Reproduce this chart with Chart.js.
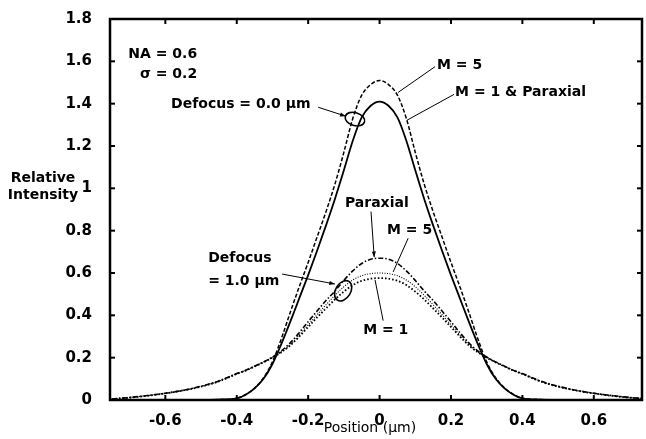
<!DOCTYPE html>
<html><head><meta charset="utf-8">
<script src="https://cdn.jsdelivr.net/npm/chart.js@4/dist/chart.umd.min.js"></script>
<style>html,body{margin:0;padding:0;background:#fff}#wrap{width:646px;height:439px}</style>
</head><body><div id="wrap"><canvas id="c" width="646" height="439"></canvas></div>
<script>
// Position (um)
const positions = [-0.75,-0.7,-0.65,-0.6,-0.55,-0.5,-0.45,-0.4,-0.375,-0.35,-0.325,-0.3,-0.275,-0.25,-0.225,-0.2,-0.175,-0.15,-0.125,-0.1,-0.075,-0.05,-0.025,
  0,
  0.025,0.05,0.075,0.1,0.125,0.15,0.175,0.2,0.225,0.25,0.275,0.3,0.325,0.35,0.375,0.4,0.45,0.5,0.55,0.6,0.65,0.7,0.75];
// Defocus = 0.0 um, M = 1 & Paraxial (solid)
const def0M1Paraxial = [0,0,0,0,0,0,0.002,0.008,0.025,0.055,0.10,0.17,0.265,0.37,0.48,0.59,0.705,0.825,0.95,1.085,1.225,1.335,1.39,
  1.41,
  1.39,1.335,1.225,1.085,0.95,0.825,0.705,0.59,0.48,0.37,0.265,0.17,0.10,0.055,0.025,0.008,0.002,0,0,0,0,0,0];
// Defocus = 0.0 um, M = 5 (dashed)
const def0M5 = [0,0,0,0,0,0,0.002,0.008,0.026,0.057,0.105,0.18,0.29,0.415,0.535,0.65,0.77,0.89,1.02,1.17,1.33,1.44,1.49,
  1.51,
  1.49,1.44,1.33,1.17,1.02,0.89,0.77,0.65,0.535,0.415,0.29,0.18,0.105,0.057,0.026,0.008,0.002,0,0,0,0,0,0];
// Defocus = 1.0 um, Paraxial (dash-dot)
const def1Paraxial = [0.005,0.012,0.021,0.032,0.046,0.065,0.09,0.125,0.14,0.16,0.18,0.203,0.232,0.27,0.318,0.37,0.42,0.47,0.515,0.565,0.61,0.645,0.665,
  0.67,
  0.665,0.645,0.61,0.565,0.515,0.47,0.42,0.37,0.318,0.27,0.232,0.203,0.18,0.16,0.14,0.125,0.09,0.065,0.046,0.032,0.021,0.012,0.005];
// Defocus = 1.0 um, M = 5 (fine dots)
const def1M5 = [0.005,0.012,0.021,0.032,0.045,0.064,0.089,0.124,0.14,0.159,0.179,0.201,0.228,0.262,0.307,0.355,0.403,0.45,0.495,0.535,0.567,0.587,0.597,
  0.60,
  0.597,0.587,0.567,0.535,0.495,0.45,0.403,0.355,0.307,0.262,0.228,0.201,0.179,0.159,0.14,0.124,0.089,0.064,0.045,0.032,0.021,0.012,0.005];
// Defocus = 1.0 um, M = 1 (dots)
const def1M1 = [0.004,0.011,0.02,0.031,0.045,0.063,0.088,0.123,0.139,0.158,0.178,0.2,0.226,0.258,0.30,0.345,0.39,0.433,0.475,0.512,0.543,0.563,0.573,
  0.576,
  0.573,0.563,0.543,0.512,0.475,0.433,0.39,0.345,0.30,0.258,0.226,0.2,0.178,0.158,0.139,0.123,0.088,0.063,0.045,0.031,0.02,0.011,0.004];

const xTickValues = [-0.6,-0.4,-0.2,0,0.2,0.4,0.6];
const yTickValues = [0,0.2,0.4,0.6,0.8,1,1.2,1.4,1.6,1.8];

const FONT = '"DejaVu Sans", "Liberation Sans", sans-serif';
const fmt = v => String(Number(v.toFixed(2)));
const pts = arr => positions.map((p,i)=>({x:p,y:arr[i]}));

function line(ctx,x1,y1,x2,y2){ctx.beginPath();ctx.moveTo(x1,y1);ctx.lineTo(x2,y2);ctx.stroke();}
function arrowHead(ctx,x1,y1,x2,y2,size){
  const a=Math.atan2(y2-y1,x2-x1);
  ctx.beginPath();ctx.moveTo(x2,y2);
  ctx.lineTo(x2-size*Math.cos(a-0.35),y2-size*Math.sin(a-0.35));
  ctx.lineTo(x2-size*Math.cos(a+0.35),y2-size*Math.sin(a+0.35));
  ctx.closePath();ctx.fill();
}

const overlay = {
  id:'overlay',
  afterDraw(chart){
    const {ctx, chartArea:a, scales:{x,y}} = chart;
    const X = v=>x.getPixelForValue(v), Y = v=>y.getPixelForValue(v);
    ctx.save();
    ctx.strokeStyle='#000'; ctx.fillStyle='#000';
    // frame
    ctx.lineWidth=2.5;
    ctx.strokeRect(a.left,a.top,a.right-a.left,a.bottom-a.top);
    // inward ticks
    ctx.lineWidth=2;
    const tl=5;
    x.ticks.forEach(t=>{const px=X(t.value);line(ctx,px,a.bottom,px,a.bottom-tl);line(ctx,px,a.top,px,a.top+tl);});
    y.ticks.forEach(t=>{const py=Y(t.value);line(ctx,a.left,py,a.left+tl,py);line(ctx,a.right,py,a.right-tl,py);});
    // axis titles
    ctx.font='bold 14px '+FONT; ctx.textAlign='center'; ctx.textBaseline='middle';
    ctx.fillText('Relative',a.left-67,178);
    ctx.fillText('Intensity',a.left-67,195);
    ctx.font='14px '+FONT;
    ctx.fillText('Position (\u00b5m)',X(-0.027),a.bottom+28);
    // annotation texts
    ctx.font='bold 14px '+FONT; ctx.textBaseline='middle';
    const texts=[
      ['NA = 0.6',-0.511,1.631,'right'],
      ['\u03c3 = 0.2',-0.511,1.5375,'right'],
      ['Defocus = 0.0 \u00b5m',-0.584,1.397,'left'],
      ['M = 5',0.161,1.58,'left'],
      ['M = 1 & Paraxial',0.2115,1.453,'left'],
      ['Paraxial',-0.097,0.928,'left'],
      ['M = 5',0.021,0.80,'left'],
      ['M = 1',-0.046,0.328,'left'],
      ['Defocus',-0.48,0.67,'left'],
      ['= 1.0 \u00b5m',-0.48,0.5625,'left']
    ];
    texts.forEach(t=>{ctx.textAlign=t[3];ctx.fillText(t[0],X(t[1]),Y(t[2]));});
    // leader lines
    ctx.lineWidth=1;
    const leaders=[
      [-0.172,1.383,-0.095,1.341,true],
      [0.1555,1.575,0.0518,1.453,false],
      [0.2087,1.444,0.077,1.322,false],
      [-0.024,0.89,-0.015,0.675,true],
      [0.08,0.764,0.038,0.605,false],
      [0.01,0.375,-0.0126,0.567,false],
      [-0.273,0.595,-0.125,0.548,true]
    ];
    leaders.forEach(l=>{
      const x1=X(l[0]),y1=Y(l[1]),x2=X(l[2]),y2=Y(l[3]);
      line(ctx,x1,y1,x2,y2);
      if(l[4]) arrowHead(ctx,x1,y1,x2,y2,6);
    });
    // ellipses
    ctx.lineWidth=1.6;
    ctx.beginPath();ctx.ellipse(X(-0.069),Y(1.327),10,6.5,0.3,0,Math.PI*2);ctx.stroke();
    ctx.beginPath();ctx.ellipse(X(-0.102),Y(0.516),7.5,11,0.55,0,Math.PI*2);ctx.stroke();
    ctx.restore();
  }
};

const ds = (label,arr,dash,w)=>({label,data:pts(arr),showLine:true,pointRadius:0,borderColor:'#000',backgroundColor:'#000',borderWidth:w,borderDash:dash,cubicInterpolationMode:'monotone',fill:false});

new Chart(document.getElementById('c'),{
  type:'scatter',
  data:{datasets:[
    ds('Defocus 0.0, M = 1 & Paraxial',def0M1Paraxial,[],1.8),
    ds('Defocus 0.0, M = 5',def0M5,[4,2],1.5),
    ds('Defocus 1.0, Paraxial',def1Paraxial,[5,2,1.5,2],1.6),
    ds('Defocus 1.0, M = 5',def1M5,[1,1.5],1.1),
    ds('Defocus 1.0, M = 1',def1M1,[1.6,2],1.8)
  ]},
  options:{
    responsive:false, animation:false, devicePixelRatio:1,
    layout:{padding:{left:0,right:4,top:16,bottom:0}},
    plugins:{legend:{display:false},tooltip:{enabled:false}},
    scales:{
      x:{type:'linear',min:-0.755,max:0.735,
        grid:{display:false},border:{display:false},
        afterBuildTicks:s=>{s.ticks=xTickValues.map(v=>({value:v}));},
        afterFit:s=>{s.height=39;},
        ticks:{autoSkip:false,maxRotation:0,padding:4,color:'#000',font:{family:FONT,size:15,weight:'bold'},callback:v=>fmt(v)}},
      y:{type:'linear',min:0,max:1.8,
        grid:{display:false},border:{display:false},
        afterBuildTicks:s=>{s.ticks=yTickValues.map(v=>({value:v}));},
        afterFit:s=>{s.width=110;},
        ticks:{autoSkip:false,padding:10,color:'#000',font:{family:FONT,size:15,weight:'bold'},callback:v=>fmt(v)}}
    }
  },
  plugins:[overlay]
});
</script></body></html>
